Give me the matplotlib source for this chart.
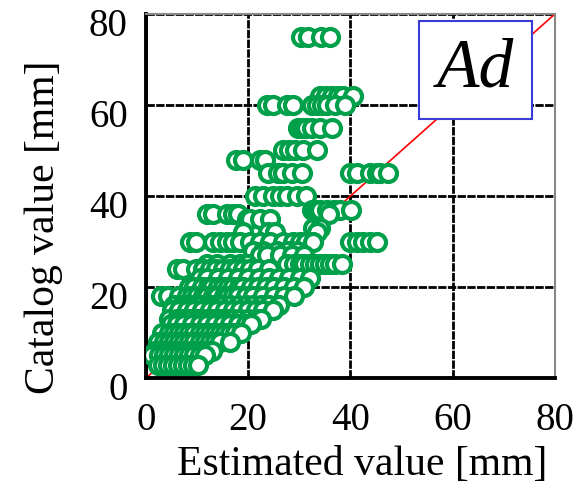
import matplotlib
matplotlib.use("Agg")
import matplotlib.pyplot as plt
from matplotlib.patches import Rectangle
from matplotlib.transforms import ScaledTranslation

plt.rcParams['font.family'] = ['Liberation Serif', 'DejaVu Serif']

# catalog value rows [mm] and estimated values read off each row [mm]
row_75 = [30.4, 31.7, 34.3, 36.0]
row_62 = [34.0, 35.2, 36.3, 37.5, 38.6, 40.5]
row_60 = [23.6, 24.9, 27.5, 28.8, 32.4, 33.5, 34.4, 35.4, 37.0, 38.9]
row_55 = [29.7, 30.6, 31.4, 32.4, 34.1, 36.3]
row_50 = [26.8, 28.0, 29.2, 30.7, 33.4]
row_48 = [17.7, 19.0, 22.3, 23.3]
row_45 = [23.9, 25.8, 26.8, 28.5, 30.5, 39.9, 41.2, 43.8, 45.1, 45.8, 47.4]
row_40 = [21.3, 23.0, 24.9, 26.2, 27.5, 29.5, 31.4]
row_37 = [32.4, 33.2, 34.1, 35.4, 36.7, 38.0, 40.2]
row_36 = [11.9, 13.2, 15.8, 17.1, 18.1, 35.8]
row_35 = [19.7, 20.4, 22.3, 24.3]
row_33 = [32.7, 34.0]
row_32 = [19.0, 23.9, 25.2, 33.4]
row_30 = [8.6, 9.9, 13.2, 14.5, 15.8, 17.1, 18.4, 20.4, 22.3, 24.3, 26.9,
          28.8, 30.1, 31.4, 32.7, 39.9, 41.2, 42.5, 43.8, 45.1]
row_28 = [20.9, 22.9, 25.6, 27.5, 29.5]
row_27 = [22.3, 23.6, 26.2, 28.5, 31.0]
row_25 = [12.0, 14.0, 16.5, 18.5, 19.7, 27.5, 29.0, 30.1, 31.0, 32.0, 33.0,
          34.0, 35.0, 36.0, 37.0, 38.3]
row_24 = [6.0, 7.3, 9.9, 11.2, 12.5, 13.8, 15.1, 16.4, 17.7, 19.0, 20.4,
          22.0, 24.0]
row_22 = [10.5, 12.0, 14.2, 16.0, 18.1, 20.0, 22.2, 24.0, 26.1, 28.0, 30.2, 32.0]
row_20 = [8.5, 9.5, 11.0, 12.1, 13.0, 14.2, 15.0, 16.1, 17.0, 18.2, 19.0,
          20.5, 22.0, 23.5, 25.0, 27.0, 29.0, 31.0]
row_18 = [3.0, 4.3, 6.5, 8.0, 9.1, 10.0, 11.2, 12.0, 13.1, 14.0, 15.2, 16.0,
          17.1, 18.0, 19.5, 21.0, 23.0, 25.0, 27.0, 29.0]
row_16 = [5.5, 7.0, 8.1, 9.0, 10.2, 11.0, 12.1, 13.0, 14.2, 15.0, 16.5, 18.0,
          19.5, 21.0, 22.5, 24.0, 26.0]
row_15 = [5.2, 6.5, 8.0, 9.5, 11.0, 12.5, 14.0, 15.5, 17.0, 18.5, 20.0,
          21.5, 23.0, 24.9]
row_13 = [4.5, 6.0, 7.0, 8.1, 9.0, 10.2, 11.0, 12.1, 13.0, 14.2, 15.0, 16.1,
          17.0, 18.5, 20.0, 21.5, 22.5]
row_12 = [5.0, 6.0, 7.5, 9.0, 10.5, 12.0, 13.5, 15.0, 16.5, 18.0, 19.5, 20.5]
row_10 = [3.2, 4.5, 5.5, 6.5, 7.5, 8.5, 9.5, 10.5, 11.5, 12.5, 13.5, 14.5,
          15.5, 16.5, 17.5, 18.6]
row_8 = [2.4, 3.5, 4.5, 5.5, 6.5, 7.5, 8.5, 9.5, 10.5, 11.5, 12.5, 13.5,
         14.5, 16.4]
row_6 = [1.8, 2.8, 3.8, 4.8, 5.8, 6.8, 7.8, 8.8, 9.8, 10.8, 12.0, 13.0]
row_5 = [1.3, 2.5, 3.5, 4.5, 5.5, 6.5, 7.5, 8.5, 9.5, 10.5, 11.5]
row_3 = [2.3, 3.3, 4.3, 5.3, 6.3, 7.3, 8.3, 9.3, 10.2]

catalog_values = [75, 62, 60, 55, 50, 48, 45, 40, 37, 36, 35, 33, 32, 30, 28,
                  27, 25, 24, 22, 20, 18, 16, 15, 13, 12, 10, 8, 6, 5, 3]
estimated_rows = [row_75, row_62, row_60, row_55, row_50, row_48, row_45,
                  row_40, row_37, row_36, row_35, row_33, row_32, row_30,
                  row_28, row_27, row_25, row_24, row_22, row_20, row_18,
                  row_16, row_15, row_13, row_12, row_10, row_8, row_6,
                  row_5, row_3]

ticks = [0, 20, 40, 60, 80]

est = []
cat = []
for c, row in zip(catalog_values, estimated_rows):
    for e in row:
        est.append(e)
        cat.append(c)

fig = plt.figure(figsize=(5.88, 4.95), dpi=100)
ax = fig.add_axes([0.248, 0.236, 0.696, 0.736])

ax.plot([0, 80], [0, 80], color='red', lw=1.2, zorder=2)
ax.scatter(est, cat, s=150, facecolors='white', edgecolors='#00A04A',
           linewidths=3.0, zorder=3)

ax.set_xlim(0, 80)
ax.set_ylim(0, 80)
ax.set_xticks(ticks)
ax.set_yticks(ticks)
ax.grid(True, color='black', lw=2.0, ls=(0, (3, 0.5)), zorder=1)
ax.set_axisbelow(True)
ax.tick_params(axis='x', length=0, labelsize=28, pad=17)
ax.tick_params(axis='y', length=0, labelsize=28, pad=13)

# y tick labels sit a little below their grid lines
shift = ScaledTranslation(0, -8 / 100, fig.dpi_scale_trans)
for lab in ax.get_yticklabels():
    lab.set_transform(lab.get_transform() + shift)

for s in ['left', 'bottom']:
    ax.spines[s].set_linewidth(2.8)
    ax.spines[s].set_color('black')
for s in ['top', 'right']:
    ax.spines[s].set_linewidth(1.5)
    ax.spines[s].set_color('#888888')
    ax.spines[s].set_linestyle((0, (3, 1)))

ax.set_xlabel('Estimated value [mm]', fontsize=30)
ax.set_ylabel('Catalog value [mm]', fontsize=30)
ax.xaxis.set_label_coords(0.528, -0.184)
ax.yaxis.set_label_coords(-0.203, 0.415)

box = Rectangle((0.667, 0.712), 0.276, 0.269, transform=ax.transAxes,
                facecolor='white', edgecolor='#3B3BD6', lw=1.5, zorder=5)
ax.add_patch(box)
ax.text(0.805, 0.846, 'Ad', transform=ax.transAxes, fontsize=50,
        style='italic', ha='center', va='center', zorder=6)

fig.savefig('out.png', dpi=100)
